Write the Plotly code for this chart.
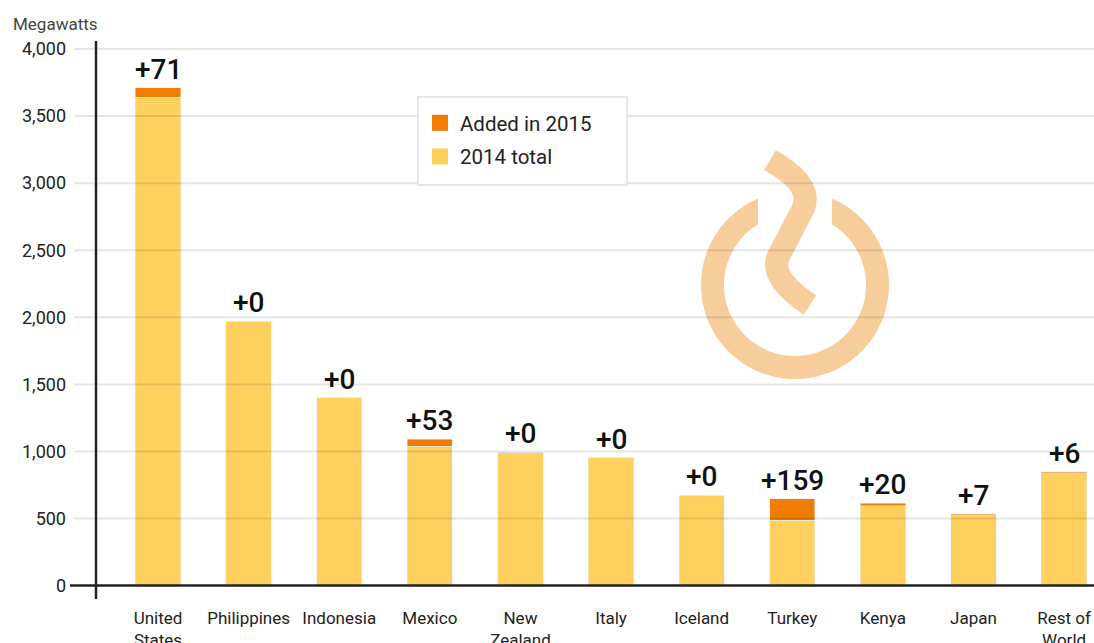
import numpy as np
import plotly.graph_objects as go

# ---------------- data ----------------
categories = ["United<br>States", "Philippines", "Indonesia", "Mexico", "New<br>Zealand",
              "Italy", "Iceland", "Turkey", "Kenya", "Japan", "Rest of<br>World"]
total_2014 = [3640, 1970, 1402, 1037, 995, 953, 675, 487, 594, 528, 843]
added_2015 = [71, 0, 0, 53, 0, 0, 0, 159, 20, 7, 6]
y_ticks = [0, 500, 1000, 1500, 2000, 2500, 3000, 3500, 4000]
y_label = "Megawatts"

YELLOW = "#fed15f"
ORANGE = "#f07c00"
LOGO = "#f8cd9c"
TXT = "#222222"
FONT = "Roboto"

W, H = 1094, 643
ML, MR, MT = 74, 0, 41
PB = 599                     # plot bottom in pixels
MB = H - PB
PW = W - ML - MR
PH = PB - MT


def pp(x, y):
    """pixel -> paper coordinates"""
    return (x - ML) / PW, (PB - y) / PH


x_idx = list(range(len(categories)))
tops = [t + a for t, a in zip(total_2014, added_2015)]

fig = go.Figure()
fig.add_trace(go.Bar(x=x_idx, y=total_2014, name="2014 total", marker_color=YELLOW,
                     width=0.5, showlegend=False, hoverinfo="skip"))
fig.add_trace(go.Bar(x=x_idx, y=added_2015, name="Added in 2015", marker_color=ORANGE,
                     width=0.5, showlegend=False, hoverinfo="skip"))
# legend entries
fig.add_trace(go.Scatter(x=[None], y=[None], mode="markers", name="Added in 2015",
                         marker=dict(symbol="square", size=16, color=ORANGE),
                         legendgroup="a"))
fig.add_trace(go.Scatter(x=[None], y=[None], mode="markers", name="2014 total",
                         marker=dict(symbol="square", size=16, color=YELLOW),
                         legendgroup="b"))

annotations = []
for i, (t, a) in enumerate(zip(tops, added_2015)):
    annotations.append(dict(x=i, y=t, xref="x", yref="y", text=f"+{a}", showarrow=False,
                            yanchor="bottom", yshift=0,
                            font=dict(family=FONT, size=28, color="#111111", weight=500)))
lx, ly = pp(11, 24)
annotations.append(dict(x=lx, y=ly, xref="paper", yref="paper", text=y_label, showarrow=False,
                        xanchor="left", yanchor="middle",
                        font=dict(family=FONT, size=17, color="#444444")))

shapes = []
# logo ring
cx, cy, Ro, Ri, half = 795.0, 285.0, 94.0, 71.0, 37.0
aLo = np.degrees(np.arctan2(np.sqrt(Ro**2 - half**2), -half))
aRo = np.degrees(np.arctan2(np.sqrt(Ro**2 - half**2), half)) + 360
aLi = np.degrees(np.arctan2(np.sqrt(Ri**2 - half**2), -half))
aRi = np.degrees(np.arctan2(np.sqrt(Ri**2 - half**2), half)) + 360
pts = []
for a in np.linspace(aLo, aRo, 120):
    pts.append(pp(cx + Ro * np.cos(np.radians(a)), cy - Ro * np.sin(np.radians(a))))
for a in np.linspace(aRi, aLi, 120):
    pts.append(pp(cx + Ri * np.cos(np.radians(a)), cy - Ri * np.sin(np.radians(a))))
ring = "M " + " L ".join(f"{x:.5f},{y:.5f}" for x, y in pts) + " Z"
shapes.append(dict(type="path", path=ring, xref="paper", yref="paper",
                   fillcolor=LOGO, line=dict(width=0), layer="above"))
# logo flame (S curve)
s_pts = [(770, 160), (787, 170), (816, 188), (801, 213), (780, 253),
         (768, 272), (790, 292), (810, 305)]
sp = [pp(x, y) for x, y in s_pts]
f = lambda p: f"{p[0]:.5f},{p[1]:.5f}"
s_path = (f"M {f(sp[0])} C {f(sp[1])} {f(sp[2])} {f(sp[3])} L {f(sp[4])} "
          f"C {f(sp[5])} {f(sp[6])} {f(sp[7])}")
shapes.append(dict(type="path", path=s_path, xref="paper", yref="paper",
                   fillcolor="rgba(0,0,0,0)", line=dict(width=23, color=LOGO), layer="above"))
# gridlines drawn over bars
for v in y_ticks[1:]:
    shapes.append(dict(type="line", xref="paper", yref="y", x0=0, x1=1, y0=v, y1=v,
                       line=dict(color="rgba(0,0,0,0.1)", width=2), layer="above"))
# zero line
zx0, _ = pp(70, 0)
shapes.append(dict(type="line", xref="paper", yref="y", x0=zx0, x1=1, y0=0, y1=0,
                   line=dict(color=TXT, width=2.5), layer="above"))
# y axis line
ax, _ = pp(96, 0)
shapes.append(dict(type="line", xref="paper", yref="paper", x0=ax, x1=ax, y0=0, y1=1,
                   line=dict(color=TXT, width=2.5), layer="above"))
# legend frame
bx0, by0 = pp(418, 185)
bx1, by1 = pp(627, 97)
shapes.append(dict(type="rect", xref="paper", yref="paper", x0=bx0, x1=bx1, y0=by0, y1=by1,
                   fillcolor="white", line=dict(color="#e6e6e6", width=2), layer="above"))

lgx, lgy = pp(420, 103)
fig.update_layout(
    width=W, height=H,
    margin=dict(l=ML, r=MR, t=MT, b=MB, pad=0, autoexpand=False),
    paper_bgcolor="white", plot_bgcolor="white",
    barmode="stack", bargap=0.5,
    font=dict(family=FONT, color=TXT),
    xaxis=dict(range=[-0.927, 10.33], tickmode="array", tickvals=x_idx, ticktext=categories,
               showgrid=False, zeroline=False, showline=False, ticks="", automargin=False,
               tickfont=dict(size=17, color=TXT), ticklabelstandoff=7, fixedrange=True),
    yaxis=dict(range=[-100, 4060], tickmode="array", tickvals=y_ticks, tickformat=",",
               showgrid=False, zeroline=False, showline=False, ticks="", automargin=False,
               tickfont=dict(size=18, color=TXT), ticklabelstandoff=7, fixedrange=True),
    legend=dict(x=lgx, y=lgy, xanchor="left", yanchor="top", bgcolor="rgba(0,0,0,0)",
                borderwidth=0, traceorder="grouped",
                tracegroupgap=4, font=dict(family=FONT, size=20.5, color=TXT),
                itemclick=False, itemdoubleclick=False),
    showlegend=True,
    annotations=annotations,
    shapes=shapes,
)

fig.write_html("out.html", config={"displayModeBar": False},
               post_script="document.body.style.margin='0';document.body.style.overflow='hidden';")
